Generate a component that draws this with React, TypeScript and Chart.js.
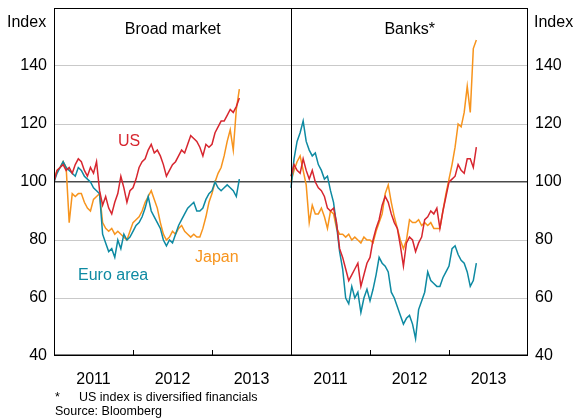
import React, { useEffect, useRef } from 'react';
import { Chart, registerables } from 'chart.js';

Chart.register(...registerables);

// Fortnightly observations, weeks since start of 2011
const WEEKS = [
  0, 2, 4, 6, 8, 10, 12, 14, 16, 18, 20, 22, 24, 26, 28, 30, 32, 34, 36, 38,
  40, 42, 44, 46, 48, 50, 52, 54, 56, 58, 60, 62, 64, 66, 68, 70, 72, 74, 76, 78,
  80, 82, 84, 86, 88, 90, 92, 94, 96, 98, 100, 102, 104, 106, 108, 110, 112, 114, 116, 118,
  120, 122,
];
const YEAR_LABELS = ['2011', '2012', '2013'];
const Y_TICKS = [40, 60, 80, 100, 120, 140];

// Broad market
const US_BROAD = [
  100, 104, 105, 106, 104, 105, 103, 106, 108, 107,
  104, 102, 105, 103, 107, 97, 92, 95, 91, 89,
  93, 96, 102, 98, 93, 97, 98, 101, 105, 107,
  108, 111, 113, 110, 111, 109, 106, 102, 104, 106,
  107, 109, 111, 110, 113, 116, 115, 114, 112, 109,
  113, 112, 113, 117, 119, 121, 121, 123, 125, 124,
  126, 129,
];
const JAPAN_BROAD = [
  101, 104, 105, 107, 105, 86, 96, 95, 96, 96,
  93, 91, 90, 94, 95, 96, 86, 84, 83, 84,
  82, 83, 82, 81, 80, 83, 86, 87, 88, 90,
  93, 95, 97, 94, 91, 86, 82, 80, 81, 83,
  82, 84, 85, 83, 82, 81, 82, 81, 81, 84,
  88, 93, 96, 100, 103, 105, 109, 114, 118, 111,
  125, 132,
];
const EURO_BROAD = [
  100, 103, 105, 107, 105, 104, 103, 102, 105, 104,
  102, 101, 100, 98, 97, 96, 82, 79, 76, 77,
  74, 80, 77, 82, 80, 81, 83, 85, 86, 88,
  91, 95, 90, 88, 86, 84, 80, 78, 80, 79,
  82, 85, 87, 89, 91, 92, 93, 90, 90, 91,
  94, 96, 97, 100, 98, 97, 98, 99, 98, 97,
  95, 101,
];

// Banks
const US_BANKS = [
  102, 106, 104, 103, 108, 104, 101, 104, 100, 98,
  97, 95, 91, 90, 91, 86, 77, 74, 70, 66,
  68, 70, 72, 64, 68, 72, 74, 80, 84, 87,
  92, 95, 93, 89, 86, 84, 78, 71, 79, 81,
  80, 76, 79, 81, 87, 88, 90, 89, 91, 84,
  90, 95, 100, 101, 102, 106, 104, 103, 108, 108,
  105, 112,
];
const JAPAN_BANKS = [
  100, 104, 107, 109, 104, 99, 86, 92, 89, 89,
  91, 88, 84, 90, 89, 84, 82, 82, 81, 82,
  80, 81, 80, 79, 81, 80, 80, 79, 83, 86,
  89, 96, 99, 93, 88, 84, 80, 77, 80, 87,
  86, 86, 87, 85, 86, 85, 86, 84, 84, 84,
  90, 96, 101, 106, 112, 120, 119, 124, 133, 124,
  146, 149,
];
const EURO_BANKS = [
  98, 108, 114, 117, 121, 114, 111, 109, 110, 106,
  104, 101, 102, 97, 93, 85, 76, 70, 60, 58,
  64, 60, 62, 55, 60, 63, 59, 63, 68, 74,
  72, 71, 69, 62, 60, 57, 54, 51, 53, 54,
  51, 46, 56, 59, 62, 69, 66, 65, 64, 64,
  67, 69, 71, 77, 78, 75, 73, 72, 69, 64,
  66, 72,
];

const US_COLOR = '#d7262f';
const JAPAN_COLOR = '#f7941d';
const EURO_COLOR = '#0e8aa2';
const FONT = "'Liberation Sans', Arial, sans-serif";

const toPoints = (vals: number[], offset: number) =>
  vals.map((v, i) => ({ x: offset + WEEKS[i] / 52, y: v }));

const line = (label: string, vals: number[], offset: number, color: string) => ({
  label,
  data: toPoints(vals, offset),
  borderColor: color,
  backgroundColor: color,
  borderWidth: 1.5,
  pointRadius: 0,
  tension: 0,
  fill: false,
});

const noPad = (s: any) => {
  s.paddingTop = 0;
  s.paddingBottom = 0;
  s.paddingLeft = 0;
  s.paddingRight = 0;
};

const overlay = {
  id: 'overlay',
  afterDatasetsDraw(chart: any) {
    const { ctx, chartArea: a, scales } = chart;
    const x = scales.x;
    ctx.save();
    ctx.strokeStyle = '#000';
    ctx.lineWidth = 1;
    ctx.strokeRect(a.left + 0.5, a.top + 0.5, a.right - a.left - 1, a.bottom - a.top - 1);
    ctx.lineWidth = 1.5;
    ctx.beginPath();
    ctx.moveTo(a.left, a.bottom - 0.75);
    ctx.lineTo(a.right, a.bottom - 0.75);
    ctx.stroke();
    ctx.lineWidth = 1;
    const xm = Math.round(x.getPixelForValue(3)) + 0.5;
    ctx.beginPath();
    ctx.moveTo(xm, a.top);
    ctx.lineTo(xm, a.bottom);
    ctx.stroke();
    [1, 2, 4, 5].forEach((v) => {
      const px = Math.round(x.getPixelForValue(v)) + 0.5;
      ctx.beginPath();
      ctx.moveTo(px, a.bottom);
      ctx.lineTo(px, a.bottom - 6);
      ctx.stroke();
    });

    ctx.fillStyle = '#000';
    ctx.font = `16px ${FONT}`;
    ctx.textBaseline = 'alphabetic';
    ctx.textAlign = 'center';
    ctx.fillText('Broad market', (a.left + xm) / 2, 34);
    ctx.fillText('Banks*', (xm + a.right) / 2, 34);
    ctx.textAlign = 'left';
    ctx.fillText('Index', 7, 27);
    ctx.fillText('Index', 534, 27);

    ctx.fillStyle = US_COLOR;
    ctx.fillText('US', 118, 146);
    ctx.fillStyle = JAPAN_COLOR;
    ctx.fillText('Japan', 195, 262);
    ctx.fillStyle = EURO_COLOR;
    ctx.fillText('Euro area', 78, 280);

    ctx.fillStyle = '#000';
    ctx.font = `12.5px ${FONT}`;
    ctx.fillText('*', 55, 401);
    ctx.fillText('US index is diversified financials', 79, 401);
    ctx.fillText('Source: Bloomberg', 55, 415);
    ctx.restore();
  },
};

export default function App() {
  const ref = useRef<HTMLCanvasElement | null>(null);

  useEffect(() => {
    if (!ref.current) return;
    const tickFont = { family: FONT, size: 16 };
    const chart = new Chart(ref.current, {
      type: 'line',
      data: {
        datasets: [
          line('US', US_BROAD, 0, US_COLOR),
          line('Euro area', EURO_BROAD, 0, EURO_COLOR),
          line('Japan', JAPAN_BROAD, 0, JAPAN_COLOR),
          line('US banks', US_BANKS, 3, US_COLOR),
          line('Euro area banks', EURO_BANKS, 3, EURO_COLOR),
          line('Japan banks', JAPAN_BANKS, 3, JAPAN_COLOR),
        ],
      },
      options: {
        animation: false,
        responsive: false,
        devicePixelRatio: 1,
        layout: { padding: { top: 8, left: 0, right: 0, bottom: 0 } },
        plugins: { legend: { display: false }, tooltip: { enabled: false }, title: { display: false } },
        scales: {
          x: {
            type: 'linear',
            min: 0,
            max: 6,
            afterBuildTicks: (s: any) => {
              s.ticks = [0.5, 1.5, 2.5, 3.5, 4.5, 5.5].map((v) => ({ value: v }));
            },
            afterFit: (s: any) => {
              s.height = 63;
              noPad(s);
            },
            ticks: {
              autoSkip: false,
              maxRotation: 0,
              color: '#000',
              font: tickFont,
              padding: 14,
              callback: (v: any) => YEAR_LABELS[Math.floor(Number(v)) % 3],
            },
            grid: { display: false, drawTicks: false },
            border: { display: false },
          },
          y: {
            position: 'left',
            min: 40,
            max: 160,
            afterBuildTicks: (s: any) => {
              s.ticks = Y_TICKS.concat([160]).map((v) => ({ value: v }));
            },
            afterFit: (s: any) => {
              s.width = 54;
              noPad(s);
            },
            ticks: {
              color: '#000',
              font: tickFont,
              padding: 7,
              callback: (v: any) => (Number(v) === 160 ? '' : String(v)),
            },
            grid: {
              drawTicks: false,
              color: (c: any) => {
                const v = c.tick && c.tick.value;
                if (v === 100) return '#4a4a4a';
                if (v === 40 || v === 160) return 'rgba(0,0,0,0)';
                return '#c9c9c9';
              },
              lineWidth: (c: any) => (c.tick && c.tick.value === 100 ? 1.5 : 1),
            },
            border: { display: false },
          },
          y2: {
            position: 'right',
            min: 40,
            max: 160,
            afterBuildTicks: (s: any) => {
              s.ticks = Y_TICKS.concat([160]).map((v) => ({ value: v }));
            },
            afterFit: (s: any) => {
              s.width = 47;
              noPad(s);
            },
            ticks: {
              color: '#000',
              font: tickFont,
              padding: 7,
              callback: (v: any) => (Number(v) === 160 ? '' : String(v)),
            },
            grid: { display: false, drawTicks: false },
            border: { display: false },
          },
        },
      },
      plugins: [overlay],
    } as any);
    return () => chart.destroy();
  }, []);

  return (
    <div style={{ position: 'absolute', left: 0, top: 0, width: 575, height: 419, background: '#fff' }}>
      <canvas ref={ref} width={575} height={419} style={{ display: 'block', width: 575, height: 419 }} />
    </div>
  );
}
